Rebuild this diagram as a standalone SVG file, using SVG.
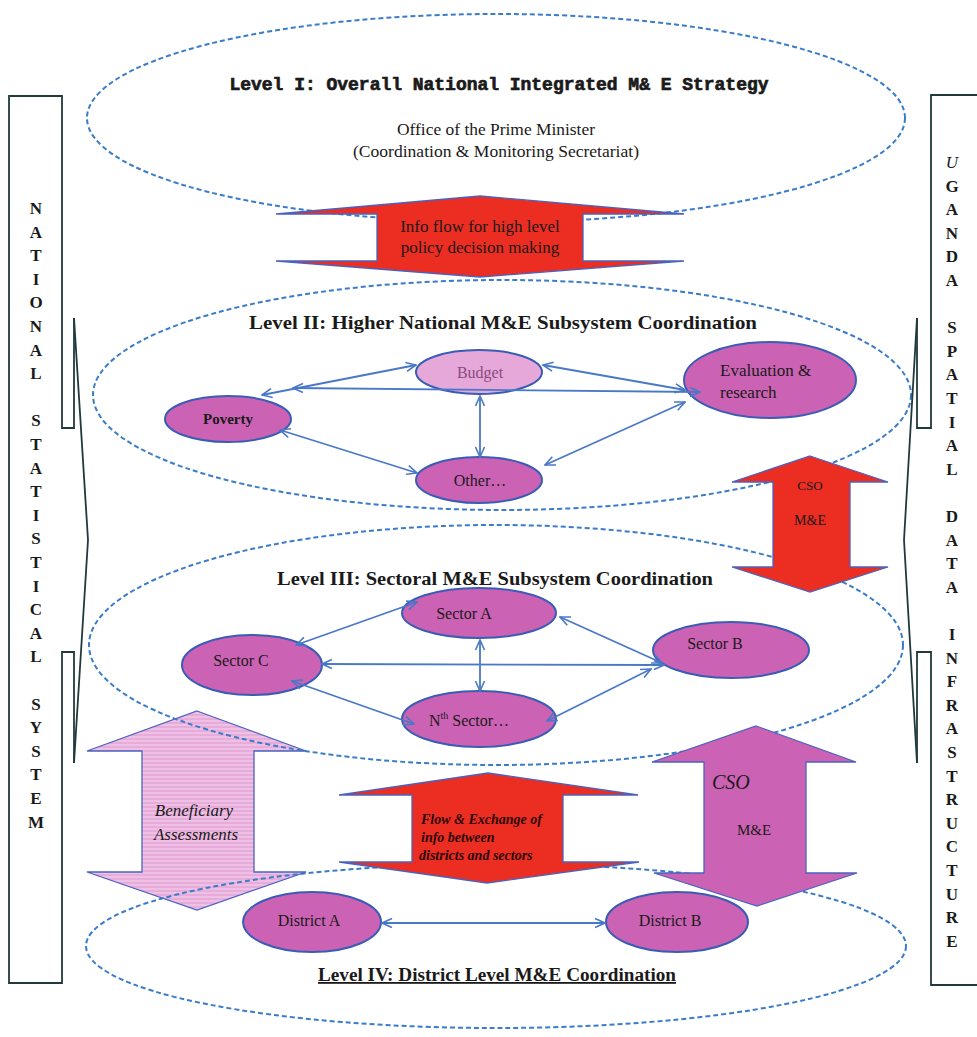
<svg xmlns="http://www.w3.org/2000/svg" width="977" height="1037" viewBox="0 0 977 1037">
<style>
.bg{fill:#ffffff}
.lvl{fill:none;stroke:#3b7cc9;stroke-width:2;stroke-dasharray:5 3}
.node{fill:#cc62b4;stroke:#3a5cb4;stroke-width:2}
.nodep{fill:#e6a8d8;stroke:#3a5cb4;stroke-width:2}
.con{fill:none;stroke:#4a78c8;stroke-width:1.8;marker-start:url(#ah);marker-end:url(#ah)}
.red{fill:#ec2d22;stroke:#4a62bf;stroke-width:1.3}
.pink{fill:#cc62b4;stroke:#4a62bf;stroke-width:1.3}
.pale{fill:url(#stripe);stroke:#4a62bf;stroke-width:1.3}
.side{fill:none;stroke:#203a3c;stroke-width:1.8}
.t{font-family:"Liberation Serif","Times New Roman",serif;fill:#1a1a1a}
.b{font-weight:bold}
.i{font-style:italic}
.m{text-anchor:middle}
.col{font-family:"Liberation Serif","Times New Roman",serif;font-weight:bold;font-size:17px;fill:#1a1a1a;text-anchor:middle}
</style>
<defs>
<marker id="ah" viewBox="0 0 12 12" refX="11" refY="6" markerWidth="12" markerHeight="12" markerUnits="userSpaceOnUse" orient="auto-start-reverse">
<path d="M1,1.5 L11,6 L1,10.5" fill="none" stroke="#4a78c8" stroke-width="1.6"/>
</marker>
<pattern id="stripe" width="6" height="4" patternUnits="userSpaceOnUse">
<rect width="6" height="4" fill="#e8acdb"/>
<rect width="6" height="2" fill="#efc0e6"/>
</pattern>
</defs>
<rect class="bg" x="0" y="0" width="977" height="1037"/>

<g id="arrow-beneficiary">
<polygon class="pale" points="197,711 306,751 254,751 254,872 306,872 197,910 87,872 142,872 142,751 87,751"/>
</g>

<g id="level-ellipses">
<ellipse id="level1" class="lvl" cx="496" cy="118" rx="409" ry="104"/>
<ellipse id="level2" class="lvl" cx="502" cy="395" rx="409" ry="115"/>
<ellipse id="level3" class="lvl" cx="496" cy="645" rx="407" ry="120"/>
<ellipse id="level4" class="lvl" cx="496" cy="946" rx="410" ry="82"/>
</g>

<g id="node-budget"><ellipse class="nodep" cx="479" cy="372" rx="63" ry="22"/><text class="t m" x="480" y="378" font-size="16" style="fill:#8a4a80">Budget</text></g>
<g id="node-poverty"><ellipse class="node" cx="228" cy="419" rx="63" ry="23"/><text class="t b m" x="228" y="424" font-size="15">Poverty</text></g>
<g id="node-evaluation"><ellipse class="node" cx="770" cy="380" rx="86" ry="38"/><text class="t" x="720" y="376" font-size="17">Evaluation &amp;</text><text class="t" x="720" y="398" font-size="17">research</text></g>
<g id="node-other"><ellipse class="node" cx="479" cy="480" rx="63" ry="23"/><text class="t m" x="480" y="486" font-size="16">Other…</text></g>

<g id="node-sector-a"><ellipse class="node" cx="479" cy="613" rx="77" ry="25"/><text class="t m" x="464" y="619" font-size="16">Sector A</text></g>
<g id="node-sector-b"><ellipse class="node" cx="731" cy="650" rx="78" ry="28"/><text class="t m" x="715" y="649" font-size="16">Sector B</text></g>
<g id="node-sector-c"><ellipse class="node" cx="252" cy="665" rx="70" ry="30"/><text class="t m" x="241" y="666" font-size="16">Sector C</text></g>
<g id="node-sector-n"><ellipse class="node" cx="479" cy="719" rx="77" ry="28"/><text class="t m" x="469" y="726" font-size="16">N<tspan font-size="10" dy="-7">th</tspan><tspan dy="7"> Sector…</tspan></text></g>

<g id="node-district-a"><ellipse class="node" cx="312" cy="922" rx="69" ry="30"/><text class="t m" x="309" y="926" font-size="16">District A</text></g>
<g id="node-district-b"><ellipse class="node" cx="677" cy="922" rx="71" ry="30"/><text class="t m" x="670" y="926" font-size="16">District B</text></g>

<g id="connectors">
<line class="con" x1="262" y1="395" x2="416" y2="365"/>
<line class="con" x1="293" y1="388" x2="700" y2="392"/>
<line class="con" x1="543" y1="365" x2="685" y2="390"/>
<line class="con" x1="480" y1="396" x2="480" y2="457"/>
<line class="con" x1="280" y1="430" x2="417" y2="473"/>
<line class="con" x1="545" y1="465" x2="685" y2="402"/>
<line class="con" x1="296" y1="645" x2="417" y2="602"/>
<line class="con" x1="560" y1="617" x2="662" y2="663"/>
<line class="con" x1="322" y1="664" x2="664" y2="665"/>
<line class="con" x1="480" y1="640" x2="480" y2="691"/>
<line class="con" x1="292" y1="681" x2="414" y2="724"/>
<line class="con" x1="547" y1="721" x2="651" y2="669"/>
<line class="con" x1="382" y1="923" x2="605" y2="923"/>
</g>

<g id="arrow-info">
<polygon class="red" points="480,196 684,214 583,214 583,261 684,261 480,277 276,261 377,261 377,214 276,214"/>
<text class="t m" x="480" y="232" font-size="17">Info flow for high level</text>
<text class="t m" x="480" y="253" font-size="17">policy decision making</text>
</g>

<g id="arrow-cso-red">
<polygon class="red" points="810,456 888,482 850,482 850,567 888,567 810,592 732,567 773,567 773,482 732,482"/>
<text class="t m" x="810" y="490" font-size="13">CSO</text>
<text class="t m" x="810" y="525" font-size="14">M&amp;E</text>
</g>

<g id="arrow-flow">
<polygon class="red" points="488,773 638,795 563,795 563,862 639,862 487,883 339,862 412,862 412,795 339,795"/>
<text class="t b i" x="421" y="824" font-size="14" style="fill:#2a0a0a">Flow &amp; Exchange of</text>
<text class="t b i" x="421" y="842" font-size="14" style="fill:#2a0a0a">info between</text>
<text class="t b i" x="419" y="860" font-size="14" style="fill:#2a0a0a">districts and sectors</text>
</g>

<g id="arrow-cso-pink">
<polygon class="pink" points="756,726 856,762 806,762 806,873 857,873 757,906 654,873 704,873 704,762 652,762"/>
<text class="t i" x="712" y="789" font-size="20">CSO</text>
<text class="t" x="737" y="835" font-size="15">M&amp;E</text>
</g>

<g id="beneficiary-label">
<text class="t i m" x="194" y="816" font-size="17">Beneficiary</text>
<text class="t i m" x="196" y="840" font-size="17">Assessments</text>
</g>

<g id="level-titles">
<text class="t b m" x="499" y="90" font-size="18" style="font-family:'Liberation Mono','Courier New',monospace;stroke:#1a1a1a;stroke-width:0.7" textLength="539" lengthAdjust="spacingAndGlyphs">Level I: Overall National Integrated M&amp; E Strategy</text>
<text class="t m" x="496" y="135" font-size="17" textLength="198" lengthAdjust="spacingAndGlyphs">Office of the Prime Minister</text>
<text class="t m" x="496" y="157" font-size="17" textLength="286" lengthAdjust="spacingAndGlyphs">(Coordination &amp; Monitoring Secretariat)</text>
<text class="t b m" x="503" y="329" font-size="19" textLength="508" lengthAdjust="spacingAndGlyphs">Level II: Higher National M&amp;E Subsystem Coordination</text>
<text class="t b m" x="495" y="585" font-size="18" textLength="436" lengthAdjust="spacingAndGlyphs">Level III: Sectoral M&amp;E Subsystem Coordination</text>
<text class="t b m" x="497" y="981" font-size="18" textLength="358" lengthAdjust="spacingAndGlyphs" text-decoration="underline">Level IV: District Level M&amp;E Coordination</text>
</g>

<g id="side-left">
<polyline class="side" points="74,318 74,428 62,428 62,96 9,96 9,983 62,983 62,652 74,652 74,763"/>
<polyline class="side" points="74,318 88,540 74,763"/>
<text class="col"><tspan x="36" y="214">N</tspan><tspan x="36" dy="23.6">A</tspan><tspan x="36" dy="23.6">T</tspan><tspan x="36" dy="23.6">I</tspan><tspan x="36" dy="23.6">O</tspan><tspan x="36" dy="23.6">N</tspan><tspan x="36" dy="23.6">A</tspan><tspan x="36" dy="23.6">L</tspan><tspan x="36" dy="47.2">S</tspan><tspan x="36" dy="23.6">T</tspan><tspan x="36" dy="23.6">A</tspan><tspan x="36" dy="23.6">T</tspan><tspan x="36" dy="23.6">I</tspan><tspan x="36" dy="23.6">S</tspan><tspan x="36" dy="23.6">T</tspan><tspan x="36" dy="23.6">I</tspan><tspan x="36" dy="23.6">C</tspan><tspan x="36" dy="23.6">A</tspan><tspan x="36" dy="23.6">L</tspan><tspan x="36" dy="47.2">S</tspan><tspan x="36" dy="23.6">Y</tspan><tspan x="36" dy="23.6">S</tspan><tspan x="36" dy="23.6">T</tspan><tspan x="36" dy="23.6">E</tspan><tspan x="36" dy="23.6">M</tspan></text>
</g>

<g id="side-right">
<polyline class="side" points="917,318 917,428 931,428 931,95 980,95"/>
<polyline class="side" points="980,985 931,985 931,652 917,652 917,763"/>
<polyline class="side" points="917,318 904,540 917,763"/>
<text class="col"><tspan x="952" y="168" font-weight="normal" font-style="italic">U</tspan><tspan x="952" dy="23.6">G</tspan><tspan x="952" dy="23.6">A</tspan><tspan x="952" dy="23.6">N</tspan><tspan x="952" dy="23.6">D</tspan><tspan x="952" dy="23.6">A</tspan><tspan x="952" dy="47.2">S</tspan><tspan x="952" dy="23.6">P</tspan><tspan x="952" dy="23.6">A</tspan><tspan x="952" dy="23.6">T</tspan><tspan x="952" dy="23.6">I</tspan><tspan x="952" dy="23.6">A</tspan><tspan x="952" dy="23.6">L</tspan><tspan x="952" dy="47.2">D</tspan><tspan x="952" dy="23.6">A</tspan><tspan x="952" dy="23.6">T</tspan><tspan x="952" dy="23.6">A</tspan><tspan x="952" dy="47.2">I</tspan><tspan x="952" dy="23.6">N</tspan><tspan x="952" dy="23.6">F</tspan><tspan x="952" dy="23.6">R</tspan><tspan x="952" dy="23.6">A</tspan><tspan x="952" dy="23.6">S</tspan><tspan x="952" dy="23.6">T</tspan><tspan x="952" dy="23.6">R</tspan><tspan x="952" dy="23.6">U</tspan><tspan x="952" dy="23.6">C</tspan><tspan x="952" dy="23.6">T</tspan><tspan x="952" dy="23.6">U</tspan><tspan x="952" dy="23.6">R</tspan><tspan x="952" dy="23.6">E</tspan></text>
</g>
</svg>
